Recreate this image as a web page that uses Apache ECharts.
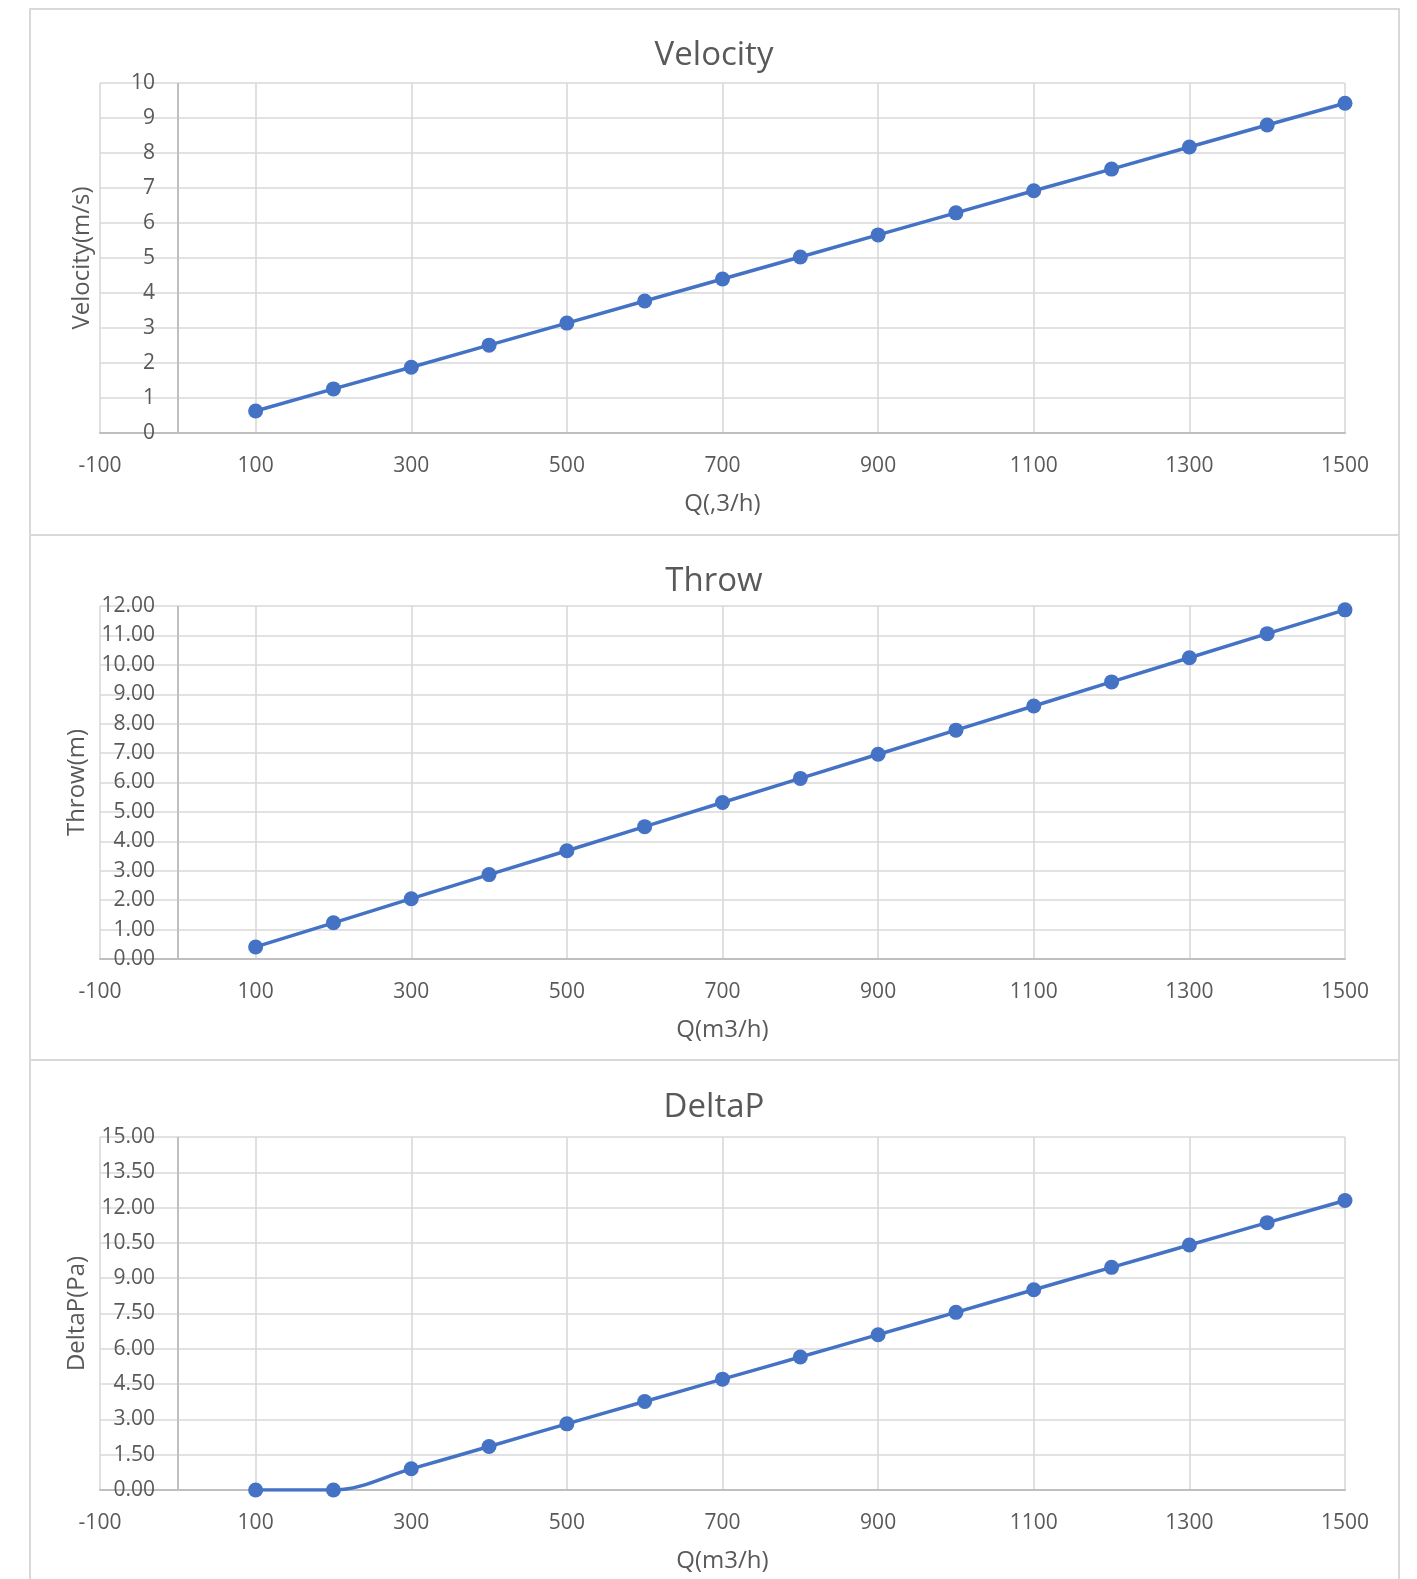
<!DOCTYPE html>
<html>
<head>
<meta charset="utf-8">
<script src="https://cdn.jsdelivr.net/npm/echarts@6/dist/echarts.min.js"></script>
<style>
  html, body { margin: 0; padding: 0; background: #ffffff; }
  #chart { width: 1417px; height: 1579px; }
</style>
</head>
<body>
<div id="chart"></div>
<script>
// ---- data ----
const flowQ = [100, 200, 300, 400, 500, 600, 700, 800, 900, 1000, 1100, 1200, 1300, 1400, 1500];
const velocity = [0.63, 1.26, 1.88, 2.51, 3.14, 3.77, 4.40, 5.03, 5.66, 6.29, 6.92, 7.54, 8.17, 8.80, 9.42];
const throwM = [0.41, 1.23, 2.05, 2.87, 3.68, 4.50, 5.32, 6.14, 6.96, 7.78, 8.60, 9.42, 10.24, 11.06, 11.87];
const deltaP = [0.00, 0.00, 0.90, 1.85, 2.81, 3.76, 4.71, 5.65, 6.60, 7.55, 8.51, 9.46, 10.41, 11.36, 12.30];

const xTicks = [-100, 100, 300, 500, 700, 900, 1100, 1300, 1500];
const velocityTicks = [0, 1, 2, 3, 4, 5, 6, 7, 8, 9, 10];
const throwTicks = [0, 1, 2, 3, 4, 5, 6, 7, 8, 9, 10, 11, 12];
const deltaPTicks = [0, 1.5, 3, 4.5, 6, 7.5, 9, 10.5, 12, 13.5, 15];

const titles = ['Velocity', 'Throw', 'DeltaP'];
const yNames = ['Velocity(m/s)', 'Throw(m)', 'DeltaP(Pa)'];
const xNames = ['Q(,3/h)', 'Q(m3/h)', 'Q(m3/h)'];

// ---- layout ----
const FONT = '"Open Sans", "Liberation Sans", sans-serif';
const TXT = '#595959';
const GRIDC = '#d9d9d9';
const AXISC = '#bfbfbf';
const BLUE = '#4472C4';

const panels = [
  { top: 83, bottom: 433, titleTop: 39, yDecimals: 0, yTicks: velocityTicks, data: velocity, nameGap: 6, smooth: false },
  { top: 606, bottom: 959, titleTop: 565, yDecimals: 2, yTicks: throwTicks, data: throwM, nameGap: 11, smooth: false },
  { top: 1137, bottom: 1490, titleTop: 1091, yDecimals: 2, yTicks: deltaPTicks, data: deltaP, nameGap: 11, smooth: 0.35 }
];

const grid = [], xAxis = [], yAxis = [], series = [], title = [];
panels.forEach((p, i) => {
  grid.push({ left: 100, right: 72, top: p.top, height: p.bottom - p.top, containLabel: false });
  title.push({
    text: titles[i], left: 714, textAlign: 'center', top: p.titleTop, padding: 0,
    textStyle: { fontFamily: FONT, fontSize: 33, fontWeight: 'normal', color: TXT }
  });
  xAxis.push({
    type: 'value', gridIndex: i,
    min: xTicks[0], max: xTicks[xTicks.length - 1], interval: xTicks[1] - xTicks[0],
    name: xNames[i], nameLocation: 'middle', nameGap: 59,
    nameTextStyle: { fontFamily: FONT, fontSize: 24, color: TXT },
    axisLine: { show: true, onZero: false, lineStyle: { color: AXISC, width: 2 } },
    axisTick: { show: false },
    axisLabel: { fontFamily: FONT, fontSize: 21, color: TXT, margin: 23, formatter: v => String(v) },
    splitLine: { show: true, lineStyle: { color: GRIDC, width: 1.6 } }
  });
  const yt = p.yTicks;
  yAxis.push({
    type: 'value', gridIndex: i,
    min: yt[0], max: yt[yt.length - 1], interval: yt[1] - yt[0],
    name: yNames[i], nameLocation: 'middle', nameRotate: 90, nameGap: p.nameGap,
    nameTextStyle: { fontFamily: FONT, fontSize: 24, color: TXT },
    axisLine: { show: false },
    axisTick: { show: false },
    axisLabel: {
      fontFamily: FONT, fontSize: 21, color: TXT, margin: -55,
      formatter: v => v.toFixed(p.yDecimals)
    },
    splitLine: { show: true, lineStyle: { color: GRIDC, width: 1.6 } }
  });
  series.push({
    type: 'line', xAxisIndex: i, yAxisIndex: i,
    data: flowQ.map((q, k) => [q, p.data[k]]),
    smooth: p.smooth,
    symbol: 'circle', symbolSize: 15,
    lineStyle: { color: BLUE, width: 3.5 },
    itemStyle: { color: BLUE },
    z: 5,
    markLine: {
      silent: true, symbol: 'none', label: { show: false },
      lineStyle: { color: AXISC, width: 2, type: 'solid' },
      data: [{ xAxis: 0 }],
      z: 1, animation: false
    }
  });
});

const chart = echarts.init(document.getElementById('chart'), null, { renderer: 'canvas' });
chart.setOption({
  animation: false,
  backgroundColor: '#ffffff',
  title, grid, xAxis, yAxis, series,
  graphic: [
    { type: 'rect', shape: { x: 30, y: 9, width: 1369, height: 526 }, style: { fill: 'none', stroke: GRIDC, lineWidth: 2 }, z: 0, silent: true },
    { type: 'rect', shape: { x: 30, y: 535, width: 1369, height: 525 }, style: { fill: 'none', stroke: GRIDC, lineWidth: 2 }, z: 0, silent: true },
    { type: 'rect', shape: { x: 30, y: 1060, width: 1369, height: 560 }, style: { fill: 'none', stroke: GRIDC, lineWidth: 2 }, z: 0, silent: true }
  ]
});
</script>
</body>
</html>
